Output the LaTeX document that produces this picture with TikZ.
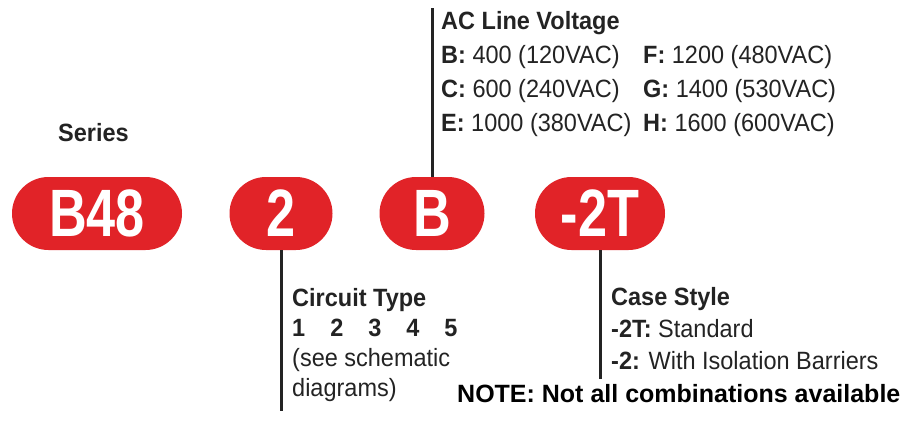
\documentclass[tikz,border=0pt]{standalone}
\usepackage{fontspec}
\setmainfont{Liberation Sans}[FakeStretch=0.94]
\newfontfamily\pillfont{Liberation Sans}[FakeStretch=0.78]
\newfontfamily\notefont{Liberation Sans}
\usetikzlibrary{shapes.misc}
\definecolor{pillred}{RGB}{225,35,40}
\definecolor{inkgray}{RGB}{35,35,35}

\begin{document}
\begin{tikzpicture}[x=1pt, y=-1pt,
	pill/.style={rounded rectangle, fill=pillred, text=white, minimum height=73pt, inner sep=0pt,
		font=\pillfont\bfseries\fontsize{67}{67}\selectfont},
	lbl/.style={anchor=base west, inner sep=0pt, text=inkgray, font=\fontsize{25}{30}\selectfont},
	head/.style={lbl, font=\bfseries\fontsize{25}{30}\selectfont},
	leader/.style={line width=3pt, inkgray}]
	\useasboundingbox (0,0) rectangle (904,423);

	% part number pieces
	\node[pill, minimum width=170pt] (series) at (97,213.5) {B48};
	\node[pill, minimum width=103pt] (circuit) at (281,213.5) {2};
	\node[pill, minimum width=105pt] (voltage) at (432,213.5) {B};
	\node[pill, minimum width=130pt] (casing) at (600,213.5) {-2T};

	\node[head] (seriesLbl) at (58,141) {Series};

	% AC line voltage
	\coordinate (voltTop) at (432,8);
	\draw[leader] (voltage.north) -- (voltTop);
	\node[head] (voltHead) at (441,29) {AC Line Voltage};
	\node[lbl] (voltB) at (441,63) {\textbf{B:} 400 (120VAC)};
	\node[lbl] (voltC) at (441,97) {\textbf{C:} 600 (240VAC)};
	\node[lbl] (voltE) at (441,131) {\textbf{E:} 1000 (380VAC)};
	\node[lbl] (voltF) at (643,63) {\textbf{F:} 1200 (480VAC)};
	\node[lbl] (voltG) at (643,97) {\textbf{G:} 1400 (530VAC)};
	\node[lbl] (voltH) at (643,131) {\textbf{H:} 1600 (600VAC)};

	% circuit type
	\coordinate (circuitEnd) at (281,411);
	\draw[leader] (circuit.south) -- (circuitEnd);
	\node[head] (circuitHead) at (292,306) {Circuit Type};
	\node[head] (circuitNums) at (292,336) {1\hspace{25pt}2\hspace{25pt}3\hspace{25pt}4\hspace{25pt}5};
	\node[lbl] (circuitSee) at (292,366) {(see schematic};
	\node[lbl] (circuitDiag) at (292,396) {diagrams)};

	% case style
	\coordinate (casingEnd) at (600,379);
	\draw[leader] (casing.south) -- (casingEnd);
	\node[head] (casingHead) at (611,305) {Case Style};
	\node[lbl] (casingStd) at (611,337) {\textbf{-2T:} Standard};
	\node[lbl] (casingIso) at (611,369) {\textbf{-2:} With Isolation Barriers};

	\node[head, text=black, font=\notefont\bfseries\fontsize{25}{30}\selectfont] (note) at (457,402) {NOTE: Not all combinations available};
\end{tikzpicture}
\end{document}
